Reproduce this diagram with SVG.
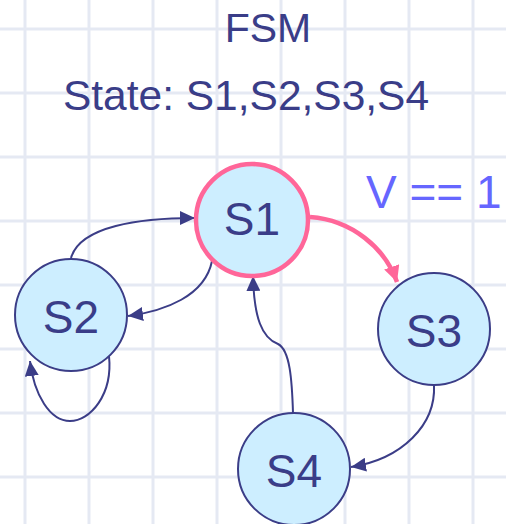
<svg xmlns="http://www.w3.org/2000/svg" width="506" height="524" viewBox="0 0 506 524">
<style>
.grid line{stroke:#e5e9f3;stroke-width:3}
.node circle{fill:#cdeeff;stroke:#3b3d87;stroke-width:2}
#S1 circle{stroke:#ff6699;stroke-width:4.5}
.lbl{font-family:"Liberation Sans",Arial,sans-serif;fill:#3a3d88;text-anchor:middle}
.edge{fill:none;stroke:#3b3d87;stroke-width:2}
.hot{fill:none;stroke:#ff6699;stroke-width:4.5}
</style>
<defs>
<marker id="ah" markerUnits="userSpaceOnUse" markerWidth="16" markerHeight="14" refX="15" refY="7" orient="auto"><path d="M0,0 L15,7 L0,14 z" fill="#3b3d87"/></marker>
<marker id="ahp" markerUnits="userSpaceOnUse" markerWidth="18" markerHeight="18" refX="16" refY="8" orient="auto"><path d="M0,0 L16,8 L0,16 z" fill="#ff6699"/></marker>
</defs>
<rect width="506" height="524" fill="#ffffff"/>
<g class="grid">
<line x1="25" y1="0" x2="25" y2="524"/><line x1="89" y1="0" x2="89" y2="524"/><line x1="153" y1="0" x2="153" y2="524"/><line x1="217" y1="0" x2="217" y2="524"/><line x1="281" y1="0" x2="281" y2="524"/><line x1="345" y1="0" x2="345" y2="524"/><line x1="409" y1="0" x2="409" y2="524"/><line x1="473" y1="0" x2="473" y2="524"/>
<line x1="0" y1="29" x2="506" y2="29"/><line x1="0" y1="93" x2="506" y2="93"/><line x1="0" y1="157" x2="506" y2="157"/><line x1="0" y1="221" x2="506" y2="221"/><line x1="0" y1="285" x2="506" y2="285"/><line x1="0" y1="349" x2="506" y2="349"/><line x1="0" y1="413" x2="506" y2="413"/><line x1="0" y1="477" x2="506" y2="477"/>
</g>
<text class="lbl" x="268" y="42" font-size="41">FSM</text>
<text class="lbl" x="246" y="110" font-size="42.5">State: S1,S2,S3,S4</text>
<text x="366" y="208" font-family="&quot;Liberation Sans&quot;,Arial,sans-serif" font-size="46" fill="#6666ff">V == 1</text>
<g id="connectors">
<path class="edge" d="M71,258 C80,226 140,218 195,218" marker-end="url(#ah)"/>
<path class="edge" d="M212,261 C205,296 165,311 128,316" marker-end="url(#ah)"/>
<path class="edge" d="M109,356 C113,395 90,421 70,421 C50,421 34,395 30,361" marker-end="url(#ah)"/>
<path class="hot" d="M310,217 C352,220 385,248 397,282" marker-end="url(#ahp)"/>
<path class="edge" d="M434,385 C436,425 402,459 351,467" marker-end="url(#ah)"/>
<path class="edge" d="M293,413 C292,380 290,350 278,344 C262,338 254,318 253,276" marker-end="url(#ah)"/>
</g>
<g id="S1" class="node"><circle cx="252" cy="220" r="56"/><text class="lbl" x="252" y="235" font-size="46">S1</text></g>
<g id="S2" class="node"><circle cx="71" cy="315" r="56"/><text class="lbl" x="71" y="333" font-size="46">S2</text></g>
<g id="S3" class="node"><circle cx="434" cy="329" r="56"/><text class="lbl" x="434" y="347" font-size="46">S3</text></g>
<g id="S4" class="node"><circle cx="294" cy="469" r="56"/><text class="lbl" x="294" y="487" font-size="46">S4</text></g>
</svg>
